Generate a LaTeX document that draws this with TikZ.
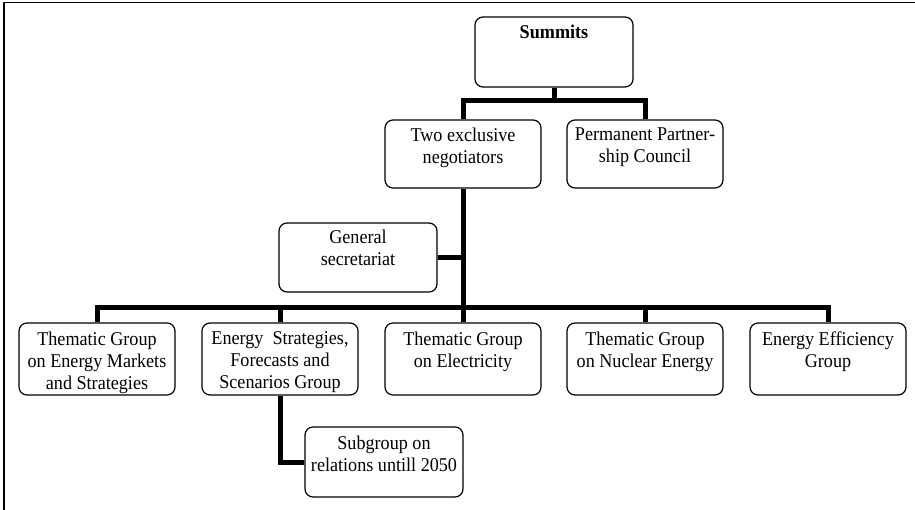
\documentclass[tikz,border=0pt]{standalone}
\usepackage{fontspec}
\setmainfont{Liberation Serif}[FakeStretch=0.93]
\usetikzlibrary{positioning}
\tikzset{
  unit/.style={draw, rounded corners=8pt, line width=1.2pt, minimum width=156pt, minimum height=70pt, inner sep=0pt},
  txt/.style={align=center, font=\fontsize{19.5}{22}\selectfont, inner sep=0pt, anchor=north},
  link/.style={line width=5pt}
}
\begin{document}
\begin{tikzpicture}[x=1pt,y=-1pt]
                \useasboundingbox (0,0) rectangle (915,510);
                \draw[line width=1.5pt] (4,510) -- (4,2.5) -- (915,2.5);
                % top levels
                \node[unit, minimum width=158pt] (summits) at (554,52) {};
                \node[txt, font=\bfseries\fontsize{19.5}{22}\selectfont] (summits-t) at ([yshift=-8pt]summits.north) {Summits};
                \node[unit, minimum height=68pt] (negot) at (463,154) {};
                \node[txt] (negot-t) at ([yshift=-8pt]negot.north) {Two exclusive\\negotiators};
                \node[unit, minimum height=68pt] (council) at (645,154) {};
                \node[txt] (council-t) at ([yshift=-8pt]council.north) {Permanent Partner-\\ship Council};
                \node[unit, minimum width=158pt, minimum height=69pt] (gensec) at (358,257.5) {};
                \node[txt] (gensec-t) at ([yshift=-7pt]gensec.north) {General\\secretariat};
                % groups
                \node[unit, minimum height=72pt] (markets) at (97,359) {};
                \node[txt] (markets-t) at ([yshift=-9pt]markets.north) {Thematic Group\\on Energy Markets\\and Strategies};
                \node[unit, minimum height=72pt] (scen) at (280,359) {};
                \node[txt] (scen-t) at ([yshift=-9pt]scen.north) {Energy~~Strategies,\\Forecasts and\\Scenarios Group};
                \node[unit, minimum height=72pt] (elec) at (463,359) {};
                \node[txt] (elec-t) at ([yshift=-9pt]elec.north) {Thematic Group\\on Electricity};
                \node[unit, minimum height=72pt] (nuclear) at (645,359) {};
                \node[txt] (nuclear-t) at ([yshift=-9pt]nuclear.north) {Thematic Group\\on Nuclear Energy};
                \node[unit, minimum height=72pt] (effic) at (828,359) {};
                \node[txt] (effic-t) at ([yshift=-9pt]effic.north) {Energy Efficiency\\Group};
                \node[unit, minimum width=158pt] (subgr) at (384,462) {};
                \node[txt] (subgr-t) at ([yshift=-9pt]subgr.north) {Subgroup on\\relations untill 2050};
                % links
                \coordinate (bar) at (554,101);
                \coordinate (bus) at (463,308);
                \draw[link] (summits.south) -- (bar);
                \draw[link] (negot.north) |- (bar) -| (council.north);
                \draw[link] (negot.south) -- (elec.north);
                \draw[link] (gensec.east) -- (gensec.east -| negot.south);
                \draw[link] (markets.north) |- (bus) -| (effic.north);
                \draw[link] (scen.north) -- (scen.north |- bus);
                \draw[link] (nuclear.north) -- (nuclear.north |- bus);
                \draw[link] (scen.south) |- (subgr.west);
            \end{tikzpicture}
\end{document}
